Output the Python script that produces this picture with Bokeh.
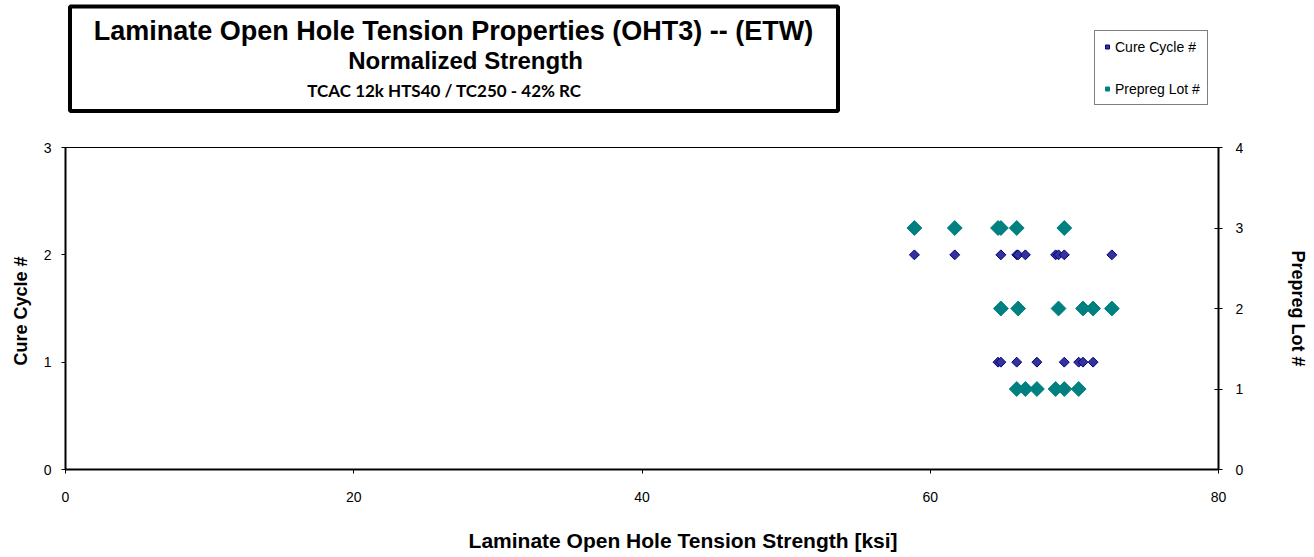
from bokeh.plotting import figure
from bokeh.layouts import column
from bokeh.models import (Range1d, LinearAxis, Legend, LegendItem, Label,
                          BoxAnnotation, FixedTicker, ColumnDataSource)
from bokeh.embed import file_html
from bokeh.resources import INLINE
import math

# ---- data ----
cure_x = [58.9, 61.7, 64.9, 66.0, 66.1, 66.6, 68.7, 68.9, 69.3, 72.6,
          64.7, 64.9, 66.0, 67.4, 69.3, 70.3, 70.6, 71.3]
cure_y = [2, 2, 2, 2, 2, 2, 2, 2, 2, 2,
          1, 1, 1, 1, 1, 1, 1, 1]
lot_x = [58.9, 61.7, 64.7, 64.9, 66.0, 69.3,
         64.9, 66.1, 68.9, 70.6, 71.3, 72.6,
         66.0, 66.6, 67.4, 68.7, 69.3, 70.3]
lot_y = [3, 3, 3, 3, 3, 3,
         2, 2, 2, 2, 2, 2,
         1, 1, 1, 1, 1, 1]

x_ticks = [0, 20, 40, 60, 80]
left_ticks = [0, 1, 2, 3]
right_ticks = [0, 1, 2, 3, 4]

title_1 = "Laminate Open Hole Tension Properties (OHT3) -- (ETW)"
title_2 = "Normalized Strength"
title_3 = "TCAC 12k HTS40 / TC250  - 42% RC"
x_label = "Laminate Open Hole Tension Strength  [ksi]"
y_label = "Cure Cycle  #"
y2_label = "Prepreg Lot #"
series_names = ["Cure Cycle #", "Prepreg Lot #"]

FONT = "Liberation Sans"
W = 1312
H_TOP = 130               # page rows 0..130   : title box + legend
H_MAIN = 380              # page rows 130..510 : chart
H_BOT = 45                # page rows 510..555 : x-axis title
FL, FR = 65, 1218         # frame left / right in page pixels
FT, FB = 147, 469         # frame top / bottom in page pixels

CURE_STYLE = dict(marker="square", angle=math.pi / 4,
                  fill_color="#333399", line_color="#000080", line_width=1)
LOT_STYLE = dict(marker="square", angle=math.pi / 4,
                 fill_color="#008080", line_color="#008080", line_width=1)


def blank_fig(height):
    f = figure(width=W, height=height, output_backend="svg", toolbar_location=None,
               x_range=Range1d(FL, FR), y_range=Range1d(0, height),
               x_axis_location=None, y_axis_location=None,
               min_border_left=FL, min_border_right=W - FR,
               min_border_top=0, min_border_bottom=0, outline_line_color=None)
    f.xgrid.visible = False
    f.ygrid.visible = False
    f.border_fill_color = "white"
    return f


# ---------------- header figure (title box + legend) ----------------
top = blank_fig(H_TOP)
top.add_layout(BoxAnnotation(left=69.5, right=837.5, top=H_TOP - 6, bottom=H_TOP - 110.5,
                             fill_color="white", fill_alpha=1,
                             line_color="black", line_width=4, line_alpha=1))
for txt, px, py, size, font in [(title_1, 453, 30, "27px", FONT),
                                (title_2, 465, 60, "24px", FONT),
                                (title_3, 446, 89.5, "17px", "Lato")]:
    top.add_layout(Label(x=px, y=H_TOP - py, text=txt, text_align="center",
                         text_baseline="middle", text_font=font,
                         text_font_size=size, text_font_style="bold",
                         text_color="black"))

# legend-only renderers (no visible points)
nan_c = ColumnDataSource(dict(x=[float("nan")], y=[float("nan")]))
nan_l = ColumnDataSource(dict(x=[float("nan")], y=[float("nan")]))
lg_cure = top.scatter("x", "y", source=nan_c, size=6, **CURE_STYLE)
lg_lot = top.scatter("x", "y", source=nan_l, size=6.5, **LOT_STYLE)

legend = Legend(items=[LegendItem(label=series_names[0], renderers=[lg_cure]),
                       LegendItem(label=series_names[1], renderers=[lg_lot])],
                location=(1094 - FL, H_TOP - 105), orientation="vertical",
                padding=7, spacing=25, margin=0,
                label_height=17, glyph_height=17, glyph_width=10,
                label_standoff=3,
                label_text_font=FONT, label_text_font_size="14px",
                label_text_color="black",
                border_line_color="black", border_line_width=1,
                background_fill_color="white", background_fill_alpha=1)
top.add_layout(legend)

# ---------------- main chart ----------------
p = figure(width=W, height=H_MAIN, output_backend="svg", toolbar_location=None,
           x_range=Range1d(0, 80), y_range=Range1d(0, 3),
           x_axis_location=None, y_axis_location=None,
           min_border_left=FL, min_border_right=W - FR,
           min_border_top=FT - H_TOP, min_border_bottom=H_TOP + H_MAIN - FB)
p.extra_y_ranges = {"lot": Range1d(0, 4)}
p.xgrid.visible = False
p.ygrid.visible = False
p.outline_line_color = "black"
p.outline_line_width = 1
p.background_fill_color = "white"
p.border_fill_color = "white"


def style_axis(ax, ticks, label, standoff, label_standoff, tin=0, tout=4):
    ax.ticker = FixedTicker(ticks=ticks)
    ax.axis_label = label
    ax.axis_line_color = "black"
    ax.axis_line_width = 2
    ax.major_tick_line_color = "black"
    ax.major_tick_line_width = 1
    ax.major_tick_in = tin
    ax.major_tick_out = tout
    ax.minor_tick_line_color = None
    ax.major_label_text_font = FONT
    ax.major_label_text_font_size = "14px"
    ax.major_label_text_color = "black"
    ax.major_label_standoff = standoff
    ax.axis_label_text_font = FONT
    ax.axis_label_text_font_style = "bold"
    ax.axis_label_text_color = "black"
    ax.axis_label_standoff = label_standoff


xaxis = LinearAxis()
style_axis(xaxis, x_ticks, None, 18, 0)
p.add_layout(xaxis, "below")

yaxis = LinearAxis()
style_axis(yaxis, left_ticks, y_label, 10, 10)
yaxis.axis_label_text_font_size = "18px"
p.add_layout(yaxis, "left")

y2axis = LinearAxis(y_range_name="lot")
style_axis(y2axis, right_ticks, y2_label, 13, 42, tin=4, tout=4)
y2axis.axis_label_text_font_size = "18px"
p.add_layout(y2axis, "right")

src_c = ColumnDataSource(dict(x=cure_x, y=cure_y))
src_l = ColumnDataSource(dict(x=lot_x, y=lot_y))
p.scatter("x", "y", source=src_c, size=7, **CURE_STYLE)
p.scatter("x", "y", source=src_l, y_range_name="lot", size=10.5, **LOT_STYLE)

# ---------------- x-axis title strip ----------------
bot = blank_fig(H_BOT)
page_bottom = H_TOP + H_MAIN + H_BOT
bot.add_layout(Label(x=685.5, y=page_bottom - 540, text=x_label,
                     text_align="center", text_baseline="middle",
                     text_font=FONT, text_font_size="21px",
                     text_font_style="bold", text_color="black"))

layout = column(top, p, bot, spacing=0)
open("out.html", "w").write(file_html(layout, INLINE))
